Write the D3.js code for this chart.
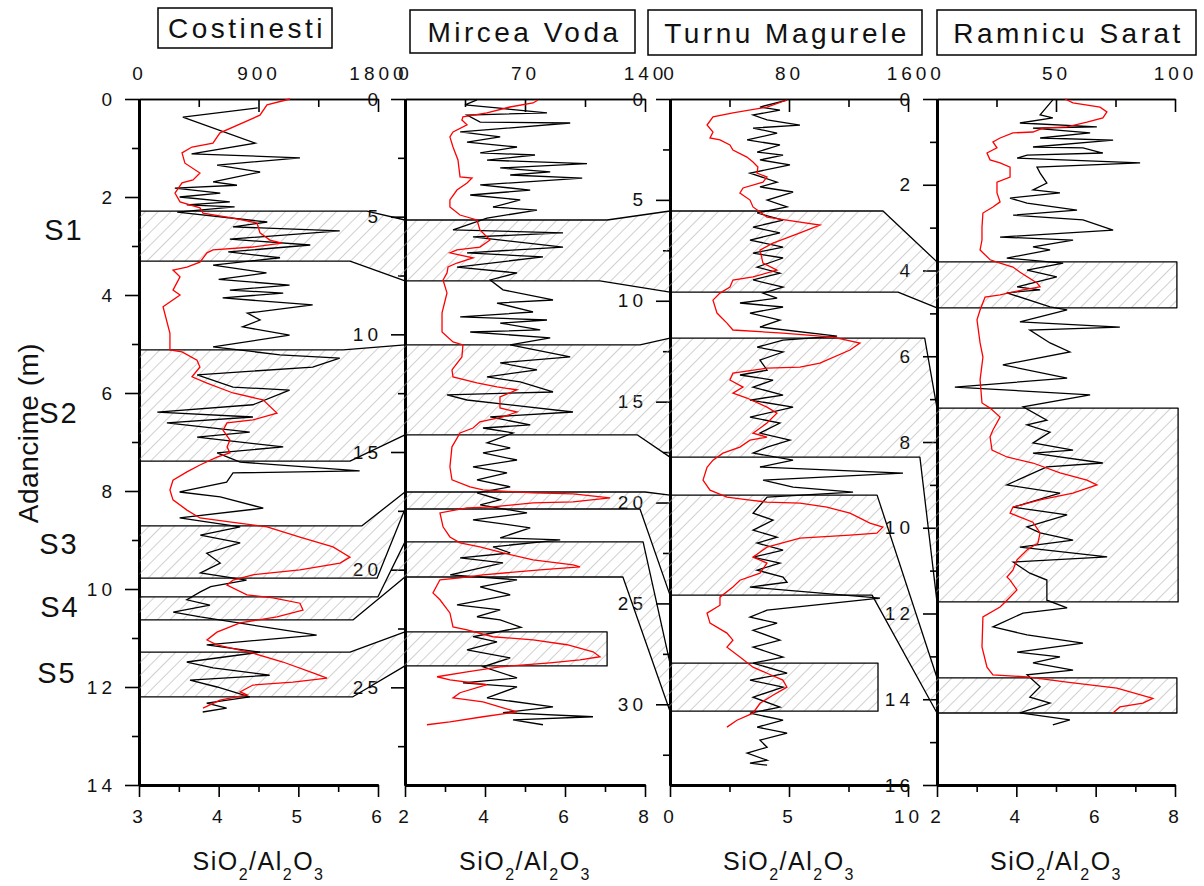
<!DOCTYPE html>
<html>
<head>
<meta charset="utf-8">
<script src="https://cdn.jsdelivr.net/npm/d3@7"></script>
<style>
body{margin:0;background:#fff;}
svg text{font-family:Arial,"Liberation Sans",sans-serif;}
</style>
</head>
<body>
<svg id="chart" width="1204" height="886"></svg>
<script>
// sites, left to right
var sites = ["Costinesti", "Mircea Voda", "Turnu Magurele", "Ramnicu Sarat"];

// depth axes (m)
var depthMax = [14, 29.15, 34, 16];
var depthTicks = [[0, 2, 4, 6, 8, 10, 12, 14], [0, 5, 10, 15, 20, 25], [0, 5, 10, 15, 20, 25, 30], [0, 2, 4, 6, 8, 10, 12, 14, 16]];
var depthMinor = [[1, 3, 5, 7, 9, 11, 13], [2.5, 7.5, 12.5, 17.5, 22.5, 27.5], [2.5, 7.5, 12.5, 17.5, 22.5, 27.5, 32.5], [1, 3, 5, 7, 9, 11, 13, 15]];

// SiO2/Al2O3 axes (bottom)
var ratioDomain = [[3, 6], [2, 8], [0, 10], [2, 8]];
var ratioTicks = [[3, 4, 5, 6], [2, 4, 6, 8], [0, 5, 10], [2, 4, 6, 8]];
var ratioMinor = [[3.5, 4.5, 5.5], [3, 5, 7], [2.5, 7.5], [3, 5, 7]];

// red series axes (top)
var topDomain = [[0, 1800], [0, 140], [0, 160], [0, 100]];
var topTicks = [[0, 900, 1800], [0, 70, 140], [0, 80, 160], [0, 50, 100]];
var topMinor = [[450, 1350], [35, 105], [40, 120], [25, 75]];

// [depth, SiO2/Al2O3]
var costBlack = [[0.18,4.49],[0.37,3.55],[0.90,4.46],[1.12,3.66],[1.20,5.02],[1.35,3.98],[1.49,4.52],[1.69,3.93],[1.76,4.23],[1.82,3.45],[1.92,4.02],[2.00,3.51],[2.10,4.14],[2.16,3.60],[2.20,4.20],[2.31,3.48],[2.51,4.61],[2.61,4.18],[2.69,5.52],[2.86,4.14],[2.98,5.15],[3.12,4.12],[3.24,4.77],[3.39,3.93],[3.55,4.60],[3.68,4.00],[3.80,4.89],[3.90,4.14],[3.96,4.81],[4.06,4.05],[4.20,5.18],[4.37,4.36],[4.51,4.52],[4.65,4.30],[4.82,4.89],[5.06,3.93],[5.22,4.77],[5.29,5.52],[5.47,5.18],[5.63,3.73],[5.88,4.18],[5.94,4.89],[6.24,4.43],[6.39,3.23],[6.49,4.43],[6.61,3.35],[6.80,4.39],[6.90,3.73],[7.10,4.81],[7.22,3.98],[7.41,4.27],[7.59,5.77],[7.63,4.18],[7.82,4.10],[8.02,3.51],[8.12,4.02],[8.35,4.56],[8.55,3.51],[8.73,4.27],[8.90,3.77],[9.06,4.27],[9.27,3.85],[9.47,4.02],[9.67,3.77],[9.82,4.35],[9.95,3.90],[10.06,3.77],[10.22,3.60],[10.33,3.89],[10.47,3.43],[10.57,3.77],[10.94,5.23],[11.14,3.85],[11.29,4.52],[11.49,3.60],[11.61,3.93],[11.76,4.64],[11.86,3.64],[12.00,3.98],[12.20,4.39],[12.33,3.85],[12.43,4.10],[12.51,3.80]];
var mirBlack = [[0.04,3.80],[0.25,3.50],[0.38,4.30],[0.59,5.55],[0.68,3.55],[0.98,3.88],[1.02,6.13],[1.40,3.38],[1.61,4.38],[1.83,3.55],[2.04,4.80],[2.29,3.88],[2.38,5.25],[2.60,4.05],[2.75,6.55],[2.93,4.38],[3.10,5.63],[3.23,4.63],[3.36,6.43],[3.65,3.88],[3.87,5.13],[4.08,3.63],[4.29,4.88],[4.59,4.20],[4.72,5.30],[5.06,4.05],[5.56,3.20],[5.69,5.95],[5.86,3.70],[6.29,5.95],[6.54,3.55],[6.71,5.45],[7.14,3.30],[7.39,4.80],[7.69,4.13],[8.11,4.45],[8.54,5.70],[8.67,4.30],[9.05,5.20],[9.26,3.38],[9.39,5.55],[9.52,4.38],[9.81,5.38],[9.90,3.63],[10.15,5.63],[10.45,4.63],[10.96,6.13],[11.21,4.38],[11.51,5.30],[11.81,4.05],[12.02,4.88],[12.45,5.70],[12.57,3.05],[12.79,3.55],[13.30,6.20],[13.51,4.13],[13.85,5.13],[13.98,3.95],[14.19,4.70],[14.61,4.05],[14.83,4.63],[15.04,3.95],[15.34,4.80],[15.63,3.70],[15.89,4.55],[16.18,3.80],[16.48,4.63],[16.74,3.80],[17.03,4.38],[17.25,3.88],[17.59,5.05],[17.88,3.70],[18.22,5.13],[18.65,4.38],[18.73,5.88],[19.03,4.20],[19.29,4.63],[19.50,3.38],[19.71,4.45],[20.22,3.13],[20.43,4.80],[20.73,3.88],[21.07,4.63],[21.50,3.30],[21.71,4.38],[22.00,3.80],[22.13,4.38],[22.45,4.90],[22.85,3.70],[23.07,4.30],[23.41,3.55],[23.75,4.63],[24.13,3.95],[24.60,4.80],[24.81,3.45],[24.98,4.80],[25.45,4.05],[25.83,5.70],[26.08,4.45],[26.25,6.70],[26.38,4.70],[26.59,5.45]];
var turBlack = [[0.05,4.92],[0.40,3.78],[0.55,4.62],[0.79,3.49],[1.04,4.08],[1.29,5.46],[1.44,3.49],[1.69,4.50],[2.03,3.24],[2.28,4.62],[2.63,3.66],[2.78,4.75],[3.02,3.78],[3.27,5.04],[3.67,3.36],[4.12,4.50],[4.36,3.78],[4.61,5.17],[5.01,4.08],[5.35,4.92],[5.65,3.66],[6.00,4.75],[6.35,3.49],[6.64,4.62],[6.99,3.36],[7.34,4.75],[7.64,3.49],[7.88,4.75],[8.33,3.66],[8.63,4.62],[8.97,3.49],[9.32,4.75],[9.62,3.91],[9.87,4.50],[10.11,2.94],[10.31,4.75],[10.61,3.36],[10.96,4.62],[11.30,3.78],[11.75,7.02],[11.95,4.75],[12.30,3.66],[12.54,4.75],[12.94,3.78],[13.44,4.08],[13.68,2.94],[13.93,4.33],[14.28,3.49],[14.68,4.75],[14.92,3.36],[15.27,5.17],[15.77,3.36],[16.06,4.62],[16.56,3.78],[16.91,5.04],[17.25,4.08],[17.55,3.49],[17.90,5.17],[18.24,3.78],[18.54,9.79],[18.89,3.91],[19.24,5.17],[19.48,7.69],[19.73,4.08],[20.53,3.49],[20.87,4.33],[21.37,3.49],[21.72,4.50],[22.01,3.66],[22.36,4.75],[22.71,3.49],[23.00,4.62],[23.35,3.66],[23.70,4.75],[23.95,4.92],[24.19,3.36],[24.74,8.82],[25.33,4.08],[25.68,3.36],[25.98,4.50],[26.33,3.49],[26.82,4.62],[27.17,3.49],[27.66,4.75],[27.96,3.49],[28.46,4.92],[28.80,3.36],[29.15,4.75],[29.65,3.49],[30.14,4.62],[30.44,3.36],[30.79,4.75],[31.13,3.66],[31.43,4.92],[31.78,3.78],[32.13,4.08],[32.42,3.24],[32.77,4.08],[32.92,3.36],[33.02,4.08]];
var ramBlack = [[0.02,4.92],[0.37,4.60],[0.44,4.92],[0.56,4.09],[0.65,6.03],[0.68,4.42],[0.79,5.86],[0.91,4.60],[0.96,6.44],[1.12,4.42],[1.14,5.68],[1.26,6.18],[1.31,4.27],[1.38,4.02],[1.49,7.12],[1.59,4.52],[1.73,4.60],[1.96,4.77],[2.12,4.42],[2.19,5.10],[2.31,3.84],[2.43,4.27],[2.59,5.53],[2.71,3.92],[2.82,5.68],[3.06,6.44],[3.22,3.59],[3.29,5.43],[3.45,4.42],[3.52,4.85],[3.71,3.76],[3.83,5.18],[3.99,4.27],[4.15,5.02],[4.38,4.02],[4.45,4.60],[4.52,3.76],[4.85,4.85],[4.92,5.28],[5.20,4.09],[5.32,6.61],[5.39,4.34],[5.69,4.85],[5.90,5.35],[6.20,3.66],[6.51,5.28],[6.72,2.45],[6.90,5.86],[7.18,4.17],[7.49,4.77],[7.60,4.27],[7.77,4.85],[8.02,4.42],[8.19,5.43],[8.26,4.42],[8.49,6.18],[8.58,4.77],[9.00,3.76],[9.19,5.10],[9.52,3.92],[9.70,5.28],[9.98,4.27],[10.12,4.60],[10.29,5.43],[10.45,4.09],[10.68,6.29],[10.80,3.92],[11.06,4.34],[11.22,4.77],[11.69,4.77],[11.87,5.28],[11.99,4.17],[12.31,3.41],[12.50,4.27],[12.69,5.68],[12.90,4.02],[13.01,5.10],[13.15,4.42],[13.32,5.43],[13.43,4.27],[13.71,4.60],[13.95,4.34],[14.09,4.85],[14.32,4.09],[14.48,5.35],[14.60,4.92]];

// [depth, top-axis value]
var costRed = [[0,1137],[0.12,964],[0.33,911],[0.69,610],[0.90,557],[0.98,399],[1.10,324],[1.31,346],[1.51,459],[1.65,407],[1.71,324],[1.92,271],[2.10,309],[2.22,459],[2.33,482],[2.43,708],[2.53,889],[2.73,911],[2.88,986],[2.94,1077],[3.02,858],[3.08,557],[3.14,512],[3.33,459],[3.43,361],[3.49,256],[3.63,309],[3.90,256],[4.00,309],[4.24,181],[4.78,233],[5.12,233],[5.16,324],[5.33,437],[5.47,459],[5.67,399],[5.80,512],[6.00,708],[6.14,934],[6.41,1039],[6.55,858],[6.61,663],[6.76,633],[6.96,685],[7.10,663],[7.22,685],[7.31,587],[7.47,459],[7.61,361],[7.78,256],[7.98,233],[8.18,256],[8.39,361],[8.55,459],[8.65,738],[8.73,964],[8.94,1212],[9.14,1461],[9.35,1589],[9.47,1514],[9.61,1212],[9.71,858],[9.82,708],[9.92,663],[10.12,813],[10.18,1009],[10.29,1212],[10.43,1235],[10.57,1039],[10.69,761],[10.88,587],[11.04,512],[11.14,587],[11.31,858],[11.49,1084],[11.71,1310],[11.82,1416],[11.90,1160],[11.96,858],[12.10,761],[12.16,813],[12.27,610],[12.43,482]];
var mirRed = [[0.04,77.6],[0.17,74.7],[0.34,61.2],[0.59,47.8],[0.76,33.8],[0.89,33.2],[1.10,36.2],[1.40,28.0],[1.61,26.2],[2.04,28.0],[2.59,30.9],[3.31,32.1],[3.36,39.1],[3.57,36.2],[3.87,30.3],[4.29,26.2],[4.59,26.2],[4.93,32.1],[5.14,42.0],[5.56,43.7],[5.99,49.6],[6.29,43.7],[6.41,30.3],[6.54,26.2],[6.75,39.7],[6.97,30.3],[7.14,25.1],[7.39,24.5],[7.69,22.2],[8.24,24.5],[9.09,21.6],[9.90,21.6],[10.32,28.0],[10.45,33.8],[10.96,33.2],[11.51,27.4],[11.81,28.0],[12.06,42.0],[12.23,53.7],[12.36,65.3],[12.66,55.4],[13.13,55.4],[13.30,65.3],[13.51,57.2],[13.72,43.7],[13.98,39.7],[14.19,32.1],[14.78,27.4],[15.63,26.2],[16.18,27.4],[16.48,37.9],[16.61,45.5],[16.74,74.7],[16.78,98.0],[16.95,119.6],[17.12,98.0],[17.16,74.7],[17.33,51.3],[17.37,36.2],[17.59,20.4],[18.18,22.2],[18.61,26.2],[18.86,32.1],[19.03,43.7],[19.29,57.2],[19.58,74.7],[19.80,98.0],[19.88,102.1],[20.01,78.7],[20.22,45.5],[20.35,32.1],[20.43,20.4],[20.99,16.3],[21.28,20.4],[21.84,26.2],[22.43,28.0],[22.56,36.2],[22.85,51.3],[22.98,74.7],[23.19,94.5],[23.49,109.7],[23.70,113.7],[23.83,102.1],[23.96,84.6],[24.13,55.4],[24.34,36.2],[24.55,18.7],[24.68,26.2],[24.89,47.8],[25.23,32.1],[25.45,28.0],[25.62,45.5],[25.87,57.2],[26.04,65.3],[26.25,45.5],[26.47,26.2],[26.59,12.8]];
var turRed = [[0.05,78.6],[0.40,65.2],[0.69,42.3],[0.89,28.9],[1.29,24.9],[1.64,28.9],[1.93,26.9],[2.03,33.6],[2.28,40.3],[2.53,42.3],[2.88,51.7],[3.12,55.8],[3.37,59.1],[3.67,58.5],[3.87,65.2],[4.12,62.5],[4.41,49.1],[4.66,47.0],[5.01,53.8],[5.35,55.8],[5.60,60.5],[5.85,65.2],[5.95,73.9],[6.25,100.8],[6.64,87.4],[7.14,69.2],[7.49,60.5],[8.13,62.5],[8.48,71.9],[8.82,55.8],[8.97,42.3],[9.32,40.3],[9.62,33.6],[9.97,28.9],[10.61,31.6],[11.11,38.3],[11.45,42.3],[11.60,75.9],[11.80,109.5],[12.10,127.7],[12.44,121.0],[13.09,100.8],[13.29,87.4],[13.34,65.2],[13.58,42.3],[13.93,40.3],[14.28,49.1],[14.58,42.3],[14.82,51.7],[15.27,65.2],[15.57,71.9],[16.06,65.2],[16.56,55.8],[16.76,65.2],[16.91,53.8],[17.25,47.0],[17.55,35.6],[17.90,28.9],[18.25,24.9],[18.89,22.2],[19.39,26.9],[19.73,38.3],[19.88,53.8],[19.98,65.2],[20.03,87.4],[20.23,105.5],[20.53,121.0],[21.02,134.4],[21.22,143.1],[21.52,139.1],[21.62,121.0],[21.76,87.4],[22.21,65.2],[22.71,55.8],[23.00,65.2],[23.50,60.5],[23.85,47.0],[24.19,42.3],[24.69,33.6],[25.09,33.6],[25.48,24.9],[25.98,26.9],[26.47,38.3],[26.82,42.3],[27.17,38.3],[27.66,47.0],[28.16,55.8],[28.46,65.2],[28.80,75.9],[29.15,78.6],[29.55,69.2],[29.95,60.5],[30.44,55.8],[30.79,45.0],[31.13,38.3]];
var ramRed = [[0,53.8],[0.09,57.1],[0.19,68.5],[0.30,71.4],[0.44,69.7],[0.54,63.0],[0.65,54.6],[0.68,44.5],[0.77,40.3],[0.79,31.9],[0.91,26.5],[1.00,23.5],[1.14,25.2],[1.26,21.0],[1.42,22.3],[1.49,26.5],[1.59,30.7],[1.82,30.7],[1.94,25.2],[2.19,25.2],[2.40,26.5],[2.52,23.5],[2.66,19.3],[2.99,18.9],[3.29,18.9],[3.52,18.1],[3.75,22.3],[3.83,26.5],[3.92,31.9],[4.04,34.9],[4.29,42.0],[4.38,43.3],[4.45,36.1],[4.57,26.5],[4.62,20.2],[4.92,18.1],[5.15,16.8],[5.69,18.1],[6.02,19.3],[6.55,18.1],[7.09,18.9],[7.21,22.3],[7.42,26.5],[7.72,23.5],[7.88,22.3],[8.19,23.1],[8.35,29.4],[8.49,40.3],[8.72,51.7],[8.89,63.0],[9.00,67.2],[9.19,57.1],[9.35,43.3],[9.52,31.9],[9.66,30.7],[9.87,40.3],[10.12,43.3],[10.36,42.4],[10.52,37.8],[10.75,33.6],[10.99,31.9],[11.15,29.4],[11.22,30.7],[11.45,33.6],[11.69,29.4],[11.85,26.5],[12.08,19.3],[12.78,18.9],[13.25,21.0],[13.43,23.5],[13.48,37.8],[13.60,54.6],[13.74,75.6],[13.98,90.7],[14.09,86.5],[14.18,76.9],[14.32,73.9]];

var blackSeries = [costBlack, mirBlack, turBlack, ramBlack];
var redSeries = [costRed, mirRed, turRed, ramRed];

// correlated layers: [top, bottom] depth in each site
var bandNames = ["S1", "S2", "S3", "S4", "S5"];
var bandDepths = [
    [[2.29, 3.31], [5.14, 7.73], [5.55, 9.57], [3.80, 4.87]],
    [[5.12, 7.39], [10.45, 14.27], [11.85, 17.75], [7.21, 11.73]],
    [[8.71, 9.78], [16.70, 17.42], [19.63, 24.59], [13.50, 14.32]],
    [[10.16, 10.63], [18.82, 20.31], [27.96, 30.34]],
    [[11.29, 12.20], [22.64, 24.09]]
];

// layout
var plotTop = 99, plotBottom = 785;
var panelX = [[139, 378], [405, 645], [670, 908], [937, 1175]];
var titleBoxes = [[158, 8, 174, 40], [410, 10, 225, 43], [648, 10, 274, 45], [937, 10, 259, 45]];
// where the top / bottom edge of a layer leaves each panel (fraction of width)
var bandBends = [
    [[0.954, 0.883], [0.842, 0.812], [0.895, 0.958], [1.008, 1.008]],
    [[0.854, 0.883], [0.979, 0.967], [1.07, 1.05], [1.013, 1.013]],
    [[0.933, 0.996], [1.0, 0.979], [0.87, 0.849], [1.008, 1.008]],
    [[1.0, 0.895], [0.992, 0.908], [0.874, 0.874]],
    [[0.883, 0.895], [0.842, 0.842]]
];
var bandLabelPos = [[64, 229], [59, 412], [59, 543], [60, 606], [57, 672]];

var font = "Arial, 'Liberation Sans', sans-serif";
var fmt = d3.format("d");
var svg = d3.select("#chart");

// hatch
var defs = svg.append("defs");
var hatch = defs.append("pattern").attr("id", "hatch")
    .attr("patternUnits", "userSpaceOnUse")
    .attr("width", 9).attr("height", 9)
    .attr("patternTransform", "rotate(45)");
hatch.append("line").attr("x1", 0).attr("y1", 0).attr("x2", 0).attr("y2", 9)
    .attr("stroke", "#a9a9a9").attr("stroke-width", 1.1);

var scales = sites.map(function(s, i) {
    return {
        y: d3.scaleLinear().domain([0, depthMax[i]]).range([plotTop, plotBottom]),
        x: d3.scaleLinear().domain(ratioDomain[i]).range(panelX[i]),
        t: d3.scaleLinear().domain(topDomain[i]).range(panelX[i])
    };
});

function styleAxis(g, domainWidth) {
    g.attr("font-size", 19).attr("font-family", font).style("letter-spacing", "4px");
    g.selectAll("text").attr("fill", "#111");
    g.selectAll(".tick line").attr("stroke", "#000").attr("stroke-width", 1.6);
    g.select(".domain").attr("stroke", "#000").attr("stroke-width", domainWidth);
}

// titles
titleBoxes.forEach(function(b, i) {
    svg.append("rect").attr("x", b[0]).attr("y", b[1]).attr("width", b[2]).attr("height", b[3])
        .attr("fill", "none").attr("stroke", "#000").attr("stroke-width", 1.5);
    svg.append("text").attr("x", b[0] + b[2] / 2 + 2).attr("y", b[1] + b[3] / 2 + 10)
        .attr("text-anchor", "middle").attr("font-size", 28).style("letter-spacing", "3.5px")
        .attr("fill", "#111").text(sites[i]);
});

// axes
sites.forEach(function(s, i) {
    var sc = scales[i], x0 = panelX[i][0];

    var lm = svg.append("g").attr("transform", "translate(" + x0 + ",0)")
        .call(d3.axisLeft(sc.y).tickValues(depthMinor[i]).tickSize(7).tickSizeOuter(0).tickFormat(""));
    styleAxis(lm, 3);
    var l = svg.append("g").attr("transform", "translate(" + x0 + ",0)")
        .call(d3.axisLeft(sc.y).tickValues(depthTicks[i]).tickSize(14).tickSizeOuter(0).tickPadding(9).tickFormat(fmt));
    styleAxis(l, 3);

    var bm = svg.append("g").attr("transform", "translate(0," + plotBottom + ")")
        .call(d3.axisBottom(sc.x).tickValues(ratioMinor[i]).tickSize(7).tickSizeOuter(0).tickFormat(""));
    styleAxis(bm, 3);
    var b = svg.append("g").attr("transform", "translate(0," + plotBottom + ")")
        .call(d3.axisBottom(sc.x).tickValues(ratioTicks[i]).tickSize(12).tickSizeOuter(0).tickPadding(13).tickFormat(fmt));
    styleAxis(b, 3);

    var tm = svg.append("g").attr("transform", "translate(0," + plotTop + ")")
        .call(d3.axisTop(sc.t).tickValues(topMinor[i]).tickSize(-8).tickSizeOuter(0).tickFormat(""));
    styleAxis(tm, 1.6);
    var t = svg.append("g").attr("transform", "translate(0," + plotTop + ")")
        .call(d3.axisTop(sc.t).tickValues(topTicks[i]).tickSize(-13).tickSizeOuter(0).tickPadding(19).tickFormat(fmt));
    styleAxis(t, 1.6);

    // x title with subscripts
    var xt = svg.append("text").attr("x", (panelX[i][0] + panelX[i][1]) / 2).attr("y", 870)
        .attr("text-anchor", "middle").attr("font-size", 25).style("letter-spacing", "1.5px").attr("fill", "#111");
    xt.append("tspan").text("SiO");
    xt.append("tspan").attr("font-size", 16).attr("dy", 10).text("2");
    xt.append("tspan").attr("dy", -10).text("/Al");
    xt.append("tspan").attr("font-size", 16).attr("dy", 10).text("2");
    xt.append("tspan").attr("dy", -10).text("O");
    xt.append("tspan").attr("font-size", 16).attr("dy", 10).text("3");
});

svg.append("text").attr("transform", "translate(38,433) rotate(-90)")
    .attr("text-anchor", "middle").attr("font-size", 28).style("letter-spacing", "0.5px")
    .attr("fill", "#111").text("Adancime (m)");

bandNames.forEach(function(n, i) {
    svg.append("text").attr("x", bandLabelPos[i][0]).attr("y", bandLabelPos[i][1] + 11)
        .attr("text-anchor", "middle").attr("font-size", 29).style("letter-spacing", "2px")
        .attr("fill", "#111").text(n);
});

// hatched layers linking the sites
function bandPath(depths, bends) {
    var top = [], bottom = [];
    depths.forEach(function(d, k) {
        var x0 = panelX[k][0], w = panelX[k][1] - x0, y = scales[k].y;
        top.push([x0, y(d[0])], [x0 + bends[k][0] * w, y(d[0])]);
        bottom.push([x0, y(d[1])], [x0 + bends[k][1] * w, y(d[1])]);
    });
    var pts = top.concat(bottom.reverse());
    return "M" + pts.map(function(p) { return p[0].toFixed(1) + "," + p[1].toFixed(1); }).join("L") + "Z";
}

svg.append("g").attr("class", "bands").selectAll("path")
    .data(bandDepths)
    .enter()
    .append("path")
    .attr("d", function(d, i) { return bandPath(d, bandBends[i]); })
    .attr("fill", "url(#hatch)")
    .attr("stroke", "#000")
    .attr("stroke-width", 1.3)
    .attr("stroke-linejoin", "round");

// profiles
sites.forEach(function(s, i) {
    var sc = scales[i];
    var black = d3.line().x(function(d) { return sc.x(d[1]); }).y(function(d) { return sc.y(d[0]); });
    var red = d3.line().x(function(d) { return sc.t(d[1]); }).y(function(d) { return sc.y(d[0]); });
    svg.append("path").datum(blackSeries[i]).attr("d", black)
        .attr("fill", "none").attr("stroke", "#000").attr("stroke-width", 1.3);
    svg.append("path").datum(redSeries[i]).attr("d", red)
        .attr("fill", "none").attr("stroke", "#ff0000").attr("stroke-width", 1.3);
});
</script>
</body>
</html>
